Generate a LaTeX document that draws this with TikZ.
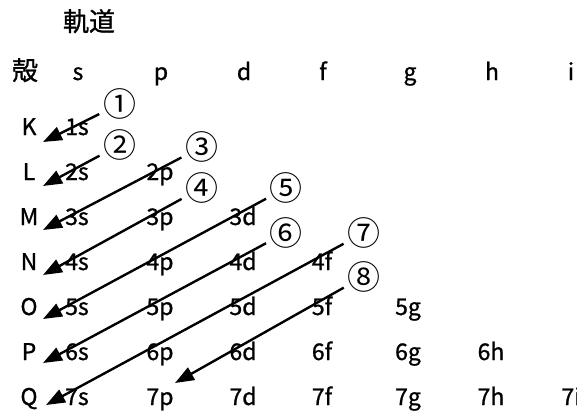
\documentclass[tikz,border=0pt]{standalone}
\usepackage{fontspec}
\newfontfamily\jp{Noto Sans CJK JP}[FakeBold=1.0]
\newfontfamily\jpc{Noto Sans CJK JP}
\usetikzlibrary{arrows.meta}
\begin{document}
\begin{tikzpicture}[x=1pt,y=-1pt,
  lbl/.style={font=\jp\fontsize{23}{26}\selectfont, inner sep=0pt, anchor=base},
  cjk/.style={font=\jp\fontsize{26}{28}\selectfont, inner sep=0pt, anchor=base},
  cnum/.style={font=\jpc\fontsize{33}{36}\selectfont, circle, inner sep=0pt, minimum size=28pt},
  arr/.style={line width=2.4pt, -{Triangle[length=19pt,width=14pt]}}]
\useasboundingbox (0,0) rectangle (577,412);
% title and header
\node[cjk] (title) at (89,31) {軌道};
\node[cjk] (shell) at (25,80) {殻};
\foreach \l/\x in {s/78,p/161,d/244,f/323,g/410,h/492,i/571}
  \node[lbl] (h-\l) at (\x,80) {\l};
% row letters
\foreach \r/\y in {K/135,L/180,M/225,N/270,O/315,P/360,Q/405}
  \node[lbl] (r-\r) at (29,\y) {\r};
% cells
\foreach \n/\y in {1/135,2/180,3/225,4/270,5/315,6/360,7/405}{
  \foreach \l/\x [count=\k] in {s/77,p/160,d/243,f/322,g/408,h/491,i/571}{
    \ifnum\k>\n\else
      \node[lbl] (c-\n\l) at (\x,\y) {\n\l};
    \fi
  }
}
% circled numbers
\node[cnum] (n1) at (119.5,104) {①};
\node[cnum] (n2) at (119.5,145) {②};
\node[cnum] (n3) at (201.5,147) {③};
\node[cnum] (n4) at (201.5,188) {④};
\node[cnum] (n5) at (286,188) {⑤};
\node[cnum] (n6) at (286,232.5) {⑥};
\node[cnum] (n7) at (363.5,233) {⑦};
\node[cnum] (n8) at (363.5,276.5) {⑧};
% arrow tips
\coordinate (t1) at (43,142);
\coordinate (t2) at (43,186);
\coordinate (t3) at (43,230);
\coordinate (t4) at (43,275);
\coordinate (t5) at (43,319);
\coordinate (t6) at (43,363);
\coordinate (t7) at (46,405);
\coordinate (t8) at (175,383);
\foreach \i in {1,...,8}
  \draw[arr] (n\i) -- (t\i);
\end{tikzpicture}
\end{document}
